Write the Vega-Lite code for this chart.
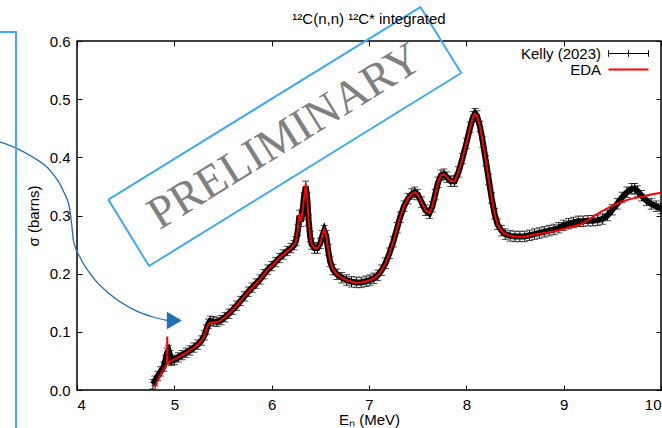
{
  "$schema": "https://vega.github.io/schema/vega-lite/v6.json",
  "width": 584,
  "height": 349,
  "autosize": "none",
  "padding": {"left": 77, "top": 41, "right": 1, "bottom": 38},
  "background": "white",
  "config": {
    "font": "Liberation Sans",
    "view": {"stroke": "black", "strokeWidth": 1.5},
    "axis": {"grid": false, "domain": false, "tickColor": "black", "tickSize": -5, "tickWidth": 1, "labelColor": "black", "titleColor": "black", "labelFontSize": 15, "titleFontSize": 15, "titleFontWeight": "normal", "labelFont": "Liberation Sans", "titleFont": "Liberation Sans"}
  },
  "title": {"text": "¹²C(n,n) ¹²C* integrated", "fontSize": 15, "fontWeight": "normal", "font": "Liberation Sans", "color": "black", "anchor": "middle", "offset": 10, "dy": 34},
  "datasets": {
    "kelly": [
      {"E":4.78,"s":0.010,"e":0.008},{"E":4.80,"s":0.016,"e":0.008},{"E":4.83,"s":0.024,"e":0.008},{"E":4.86,"s":0.032,"e":0.008},{"E":4.89,"s":0.040,"e":0.008},{"E":4.91,"s":0.052,"e":0.008},{"E":4.925,"s":0.064,"e":0.008},{"E":4.94,"s":0.068,"e":0.008},{"E":4.955,"s":0.060,"e":0.008},{"E":4.97,"s":0.050,"e":0.008},
      {"E":5.00,"s":0.052,"e":0.008},{"E":5.04,"s":0.056,"e":0.008},{"E":5.08,"s":0.060,"e":0.008},{"E":5.12,"s":0.064,"e":0.008},{"E":5.16,"s":0.068,"e":0.008},{"E":5.20,"s":0.073,"e":0.008},{"E":5.24,"s":0.078,"e":0.008},{"E":5.28,"s":0.085,"e":0.008},{"E":5.31,"s":0.094,"e":0.008},{"E":5.33,"s":0.104,"e":0.008},
      {"E":5.35,"s":0.114,"e":0.008},{"E":5.37,"s":0.119,"e":0.008},{"E":5.40,"s":0.118,"e":0.008},{"E":5.44,"s":0.117,"e":0.008},{"E":5.48,"s":0.120,"e":0.008},{"E":5.52,"s":0.125,"e":0.008},{"E":5.56,"s":0.131,"e":0.008},{"E":5.60,"s":0.138,"e":0.008},{"E":5.64,"s":0.145,"e":0.008},{"E":5.68,"s":0.153,"e":0.008},
      {"E":5.72,"s":0.161,"e":0.008},{"E":5.76,"s":0.169,"e":0.008},{"E":5.80,"s":0.176,"e":0.008},{"E":5.84,"s":0.183,"e":0.008},{"E":5.88,"s":0.190,"e":0.008},{"E":5.92,"s":0.199,"e":0.008},{"E":5.96,"s":0.207,"e":0.008},{"E":6.00,"s":0.213,"e":0.008},{"E":6.04,"s":0.220,"e":0.008},{"E":6.08,"s":0.227,"e":0.008},
      {"E":6.12,"s":0.233,"e":0.008},{"E":6.16,"s":0.239,"e":0.008},{"E":6.20,"s":0.244,"e":0.008},{"E":6.23,"s":0.249,"e":0.008},{"E":6.25,"s":0.256,"e":0.008},{"E":6.27,"s":0.275,"e":0.009},{"E":6.285,"s":0.300,"e":0.009},{"E":6.30,"s":0.290,"e":0.009},{"E":6.315,"s":0.302,"e":0.009},{"E":6.33,"s":0.330,"e":0.009},
      {"E":6.35,"s":0.350,"e":0.009},{"E":6.365,"s":0.330,"e":0.009},{"E":6.38,"s":0.292,"e":0.009},{"E":6.395,"s":0.264,"e":0.009},{"E":6.41,"s":0.251,"e":0.009},{"E":6.44,"s":0.244,"e":0.009},{"E":6.47,"s":0.244,"e":0.009},{"E":6.50,"s":0.252,"e":0.009},{"E":6.52,"s":0.265,"e":0.009},{"E":6.54,"s":0.274,"e":0.009},
      {"E":6.56,"s":0.265,"e":0.009},{"E":6.58,"s":0.241,"e":0.009},{"E":6.60,"s":0.221,"e":0.009},{"E":6.63,"s":0.207,"e":0.009},{"E":6.67,"s":0.199,"e":0.009},{"E":6.72,"s":0.193,"e":0.009},{"E":6.77,"s":0.189,"e":0.009},{"E":6.82,"s":0.186,"e":0.009},{"E":6.87,"s":0.185,"e":0.009},{"E":6.92,"s":0.185,"e":0.009},
      {"E":6.97,"s":0.187,"e":0.009},{"E":7.01,"s":0.189,"e":0.009},{"E":7.05,"s":0.192,"e":0.009},{"E":7.09,"s":0.197,"e":0.009},{"E":7.13,"s":0.206,"e":0.009},{"E":7.17,"s":0.218,"e":0.009},{"E":7.21,"s":0.235,"e":0.009},{"E":7.25,"s":0.255,"e":0.009},{"E":7.29,"s":0.279,"e":0.009},{"E":7.32,"s":0.297,"e":0.009},
      {"E":7.36,"s":0.316,"e":0.009},{"E":7.40,"s":0.329,"e":0.009},{"E":7.44,"s":0.337,"e":0.009},{"E":7.47,"s":0.340,"e":0.009},{"E":7.50,"s":0.336,"e":0.009},{"E":7.54,"s":0.323,"e":0.009},{"E":7.58,"s":0.309,"e":0.009},{"E":7.62,"s":0.304,"e":0.009},{"E":7.65,"s":0.315,"e":0.009},{"E":7.68,"s":0.336,"e":0.009},
      {"E":7.71,"s":0.357,"e":0.009},{"E":7.74,"s":0.369,"e":0.009},{"E":7.77,"s":0.371,"e":0.009},{"E":7.80,"s":0.366,"e":0.009},{"E":7.84,"s":0.359,"e":0.009},{"E":7.88,"s":0.359,"e":0.009},{"E":7.92,"s":0.375,"e":0.009},{"E":7.96,"s":0.398,"e":0.009},{"E":8.00,"s":0.424,"e":0.009},{"E":8.04,"s":0.452,"e":0.009},
      {"E":8.07,"s":0.470,"e":0.009},{"E":8.09,"s":0.475,"e":0.009},{"E":8.11,"s":0.471,"e":0.009},{"E":8.14,"s":0.453,"e":0.009},{"E":8.17,"s":0.426,"e":0.009},{"E":8.20,"s":0.394,"e":0.009},{"E":8.23,"s":0.362,"e":0.009},{"E":8.26,"s":0.330,"e":0.009},{"E":8.29,"s":0.303,"e":0.009},{"E":8.32,"s":0.285,"e":0.009},
      {"E":8.36,"s":0.274,"e":0.009},{"E":8.40,"s":0.268,"e":0.009},{"E":8.45,"s":0.265,"e":0.009},{"E":8.50,"s":0.264,"e":0.009},{"E":8.55,"s":0.264,"e":0.009},{"E":8.60,"s":0.264,"e":0.009},{"E":8.65,"s":0.266,"e":0.009},{"E":8.70,"s":0.268,"e":0.009},{"E":8.75,"s":0.270,"e":0.009},{"E":8.80,"s":0.272,"e":0.009},
      {"E":8.85,"s":0.274,"e":0.009},{"E":8.90,"s":0.276,"e":0.009},{"E":8.95,"s":0.279,"e":0.009},{"E":9.00,"s":0.283,"e":0.009},{"E":9.05,"s":0.286,"e":0.009},{"E":9.10,"s":0.288,"e":0.009},{"E":9.15,"s":0.290,"e":0.009},{"E":9.20,"s":0.290,"e":0.009},{"E":9.25,"s":0.291,"e":0.009},{"E":9.30,"s":0.291,"e":0.009},
      {"E":9.35,"s":0.292,"e":0.009},{"E":9.40,"s":0.294,"e":0.009},{"E":9.45,"s":0.300,"e":0.009},{"E":9.50,"s":0.310,"e":0.009},{"E":9.55,"s":0.320,"e":0.009},{"E":9.60,"s":0.331,"e":0.009},{"E":9.65,"s":0.340,"e":0.009},{"E":9.70,"s":0.346,"e":0.009},{"E":9.73,"s":0.346,"e":0.009},{"E":9.76,"s":0.342,"e":0.009},
      {"E":9.80,"s":0.334,"e":0.009},{"E":9.85,"s":0.326,"e":0.009},{"E":9.90,"s":0.320,"e":0.009},{"E":9.95,"s":0.316,"e":0.009},{"E":10.0,"s":0.312,"e":0.009}
    ],
    "eda": [
      {"E":4.80,"s":0.004},{"E":4.83,"s":0.017},{"E":4.86,"s":0.027},{"E":4.89,"s":0.036},{"E":4.925,"s":0.045},{"E":4.927,"s":0.092},{"E":4.929,"s":0.046},{"E":4.96,"s":0.049},
      {"E":5.00,"s":0.053},{"E":5.04,"s":0.056},{"E":5.08,"s":0.060},{"E":5.12,"s":0.064},{"E":5.16,"s":0.068},{"E":5.20,"s":0.073},{"E":5.24,"s":0.078},{"E":5.28,"s":0.085},{"E":5.31,"s":0.094},{"E":5.33,"s":0.105},
      {"E":5.35,"s":0.113},{"E":5.37,"s":0.116},{"E":5.40,"s":0.116},{"E":5.44,"s":0.117},{"E":5.48,"s":0.120},{"E":5.52,"s":0.125},{"E":5.56,"s":0.131},{"E":5.60,"s":0.138},{"E":5.64,"s":0.145},{"E":5.68,"s":0.153},
      {"E":5.72,"s":0.161},{"E":5.76,"s":0.169},{"E":5.80,"s":0.176},{"E":5.84,"s":0.183},{"E":5.88,"s":0.190},{"E":5.92,"s":0.199},{"E":5.96,"s":0.207},{"E":6.00,"s":0.213},{"E":6.04,"s":0.220},{"E":6.08,"s":0.227},
      {"E":6.12,"s":0.233},{"E":6.16,"s":0.239},{"E":6.20,"s":0.244},{"E":6.23,"s":0.249},{"E":6.25,"s":0.256},{"E":6.27,"s":0.278},{"E":6.285,"s":0.303},{"E":6.30,"s":0.290},{"E":6.32,"s":0.310},{"E":6.35,"s":0.355},
      {"E":6.365,"s":0.330},{"E":6.38,"s":0.292},{"E":6.395,"s":0.265},{"E":6.41,"s":0.251},{"E":6.44,"s":0.244},{"E":6.47,"s":0.244},{"E":6.50,"s":0.252},{"E":6.52,"s":0.266},{"E":6.54,"s":0.276},{"E":6.56,"s":0.266},
      {"E":6.58,"s":0.242},{"E":6.60,"s":0.222},{"E":6.63,"s":0.207},{"E":6.67,"s":0.199},{"E":6.72,"s":0.193},{"E":6.77,"s":0.189},{"E":6.82,"s":0.186},{"E":6.87,"s":0.185},{"E":6.92,"s":0.185},{"E":6.97,"s":0.187},
      {"E":7.01,"s":0.189},{"E":7.05,"s":0.192},{"E":7.09,"s":0.197},{"E":7.13,"s":0.206},{"E":7.17,"s":0.218},{"E":7.21,"s":0.235},{"E":7.25,"s":0.255},{"E":7.29,"s":0.279},{"E":7.32,"s":0.297},{"E":7.36,"s":0.316},
      {"E":7.40,"s":0.329},{"E":7.44,"s":0.337},{"E":7.47,"s":0.340},{"E":7.50,"s":0.336},{"E":7.54,"s":0.323},{"E":7.58,"s":0.309},{"E":7.62,"s":0.304},{"E":7.65,"s":0.315},{"E":7.68,"s":0.336},{"E":7.71,"s":0.357},
      {"E":7.74,"s":0.369},{"E":7.77,"s":0.371},{"E":7.80,"s":0.366},{"E":7.84,"s":0.359},{"E":7.88,"s":0.359},{"E":7.92,"s":0.375},{"E":7.96,"s":0.398},{"E":8.00,"s":0.424},{"E":8.04,"s":0.452},{"E":8.07,"s":0.470},
      {"E":8.09,"s":0.475},{"E":8.11,"s":0.471},{"E":8.14,"s":0.453},{"E":8.17,"s":0.426},{"E":8.20,"s":0.394},{"E":8.23,"s":0.362},{"E":8.26,"s":0.330},{"E":8.29,"s":0.303},{"E":8.32,"s":0.285},{"E":8.36,"s":0.274},
      {"E":8.40,"s":0.268},{"E":8.45,"s":0.265},{"E":8.50,"s":0.264},{"E":8.55,"s":0.263},{"E":8.60,"s":0.264},{"E":8.70,"s":0.267},{"E":8.80,"s":0.270},{"E":8.90,"s":0.273},{"E":9.00,"s":0.277},{"E":9.10,"s":0.281},
      {"E":9.17,"s":0.284},{"E":9.25,"s":0.292},{"E":9.33,"s":0.301},{"E":9.41,"s":0.309},{"E":9.50,"s":0.317},{"E":9.60,"s":0.324},{"E":9.70,"s":0.329},{"E":9.80,"s":0.332},{"E":9.90,"s":0.336},{"E":10.0,"s":0.339}
    ],
    "rect": [
      {"i":0,"E":4.322,"s":0.3273},{"i":1,"E":7.528,"s":0.6584},{"i":2,"E":7.947,"s":0.5450},{"i":3,"E":4.740,"s":0.2132},{"i":4,"E":4.322,"s":0.3273}
    ],
    "stamp": [
      {"E":6.134,"s":0.4358,"t":"PRELIMINARY"}
    ],
    "arc": [
      {"E":3.15,"s":0.428},{"E":3.209,"s":0.4263},{"E":3.380,"s":0.4155},{"E":3.548,"s":0.4001},{"E":3.723,"s":0.3777},{"E":3.856,"s":0.3433},{"E":3.928,"s":0.3089},{"E":3.945,"s":0.285},{"E":3.965,"s":0.256},{"E":4.031,"s":0.2281},{"E":4.164,"s":0.1938},{"E":4.339,"s":0.1645},{"E":4.576,"s":0.1387},{"E":4.781,"s":0.1255},{"E":4.925,"s":0.1198}
    ],
    "head": [
      {"E":5.0,"s":0.1195}
    ],
    "box": [
      {"i":0,"E":3.0,"s":0.6154},{"i":1,"E":3.373,"s":0.6154},{"i":2,"E":3.373,"s":-0.12}
    ]
  },
  "layer": [
    {
      "data": {"name": "kelly"},
      "mark": {"type": "line", "strokeWidth": 6, "color": "black"},
      "encoding": {
        "x": {"field": "E", "type": "quantitative", "scale": {"domain": [4, 10], "nice": false, "zero": false},
              "axis": {"values": [4, 5, 6, 7, 8, 9, 10], "title": "Eₙ (MeV)", "labelPadding": 12, "titlePadding": 0}},
        "y": {"field": "s", "type": "quantitative", "scale": {"domain": [0, 0.6], "nice": false, "zero": false},
              "axis": {"values": [0, 0.1, 0.2, 0.3, 0.4, 0.5, 0.6], "title": "σ (barns)", "labelPadding": 12, "titlePadding": 8}},
        "color": {"datum": "Kelly (2023)", "type": "nominal",
                  "scale": {"domain": ["Kelly (2023)", "EDA"], "range": ["black", "red"]},
                  "legend": {"orient": "none", "legendX": 544, "legendY": 5, "title": null, "labelFontSize": 15, "labelFont": "Liberation Sans", "labelColor": "black",
                             "labelAlign": "right", "labelOffset": -35, "symbolSize": 64, "rowPadding": 0, "padding": 0,
                             "encode": {"symbols": {"update": {
                               "shape": {"signal": "datum.value === 'EDA' ? 'M-5,0H5' : 'M-5,0H5M-5,-0.8V0.8M5,-0.8V0.8M0,-0.8V0.8'"},
                               "strokeWidth": {"signal": "datum.value === 'EDA' ? 2 : 1"},
                               "fill": {"value": "transparent"}}}}}}
      }
    },
    {
      "data": {"name": "kelly"},
      "mark": {"type": "errorbar", "color": "black", "thickness": 1, "ticks": {"size": 7, "thickness": 1}},
      "encoding": {
        "x": {"field": "E", "type": "quantitative", "axis": null},
        "y": {"field": "s", "type": "quantitative", "axis": null},
        "yError": {"field": "e"}
      }
    },
    {
      "data": {"name": "eda"},
      "mark": {"type": "line", "strokeWidth": 2},
      "encoding": {
        "x": {"field": "E", "type": "quantitative", "axis": {"orient": "top", "labels": false, "title": null, "values": [4, 5, 6, 7, 8, 9, 10]}},
        "y": {"field": "s", "type": "quantitative", "axis": {"orient": "right", "labels": false, "title": null, "values": [0, 0.1, 0.2, 0.3, 0.4, 0.5, 0.6]}},
        "color": {"datum": "EDA", "type": "nominal"}
      }
    },
    {
      "data": {"name": "rect"},
      "mark": {"type": "line", "color": "#3fa9f5", "strokeWidth": 2, "clip": false},
      "encoding": {
        "x": {"field": "E", "type": "quantitative", "axis": null},
        "y": {"field": "s", "type": "quantitative", "axis": null},
        "order": {"field": "i"}
      }
    },
    {
      "data": {"name": "stamp"},
      "mark": {"type": "text", "font": "Liberation Serif", "fontSize": 46, "color": "#808080", "angle": 328.3, "align": "center", "baseline": "middle", "clip": false},
      "encoding": {
        "x": {"field": "E", "type": "quantitative", "axis": null},
        "y": {"field": "s", "type": "quantitative", "axis": null},
        "text": {"field": "t"}
      }
    },
    {
      "data": {"name": "arc"},
      "mark": {"type": "line", "color": "#1f6fb2", "strokeWidth": 1.3, "interpolate": "monotone", "clip": false},
      "encoding": {
        "x": {"field": "E", "type": "quantitative", "axis": null},
        "y": {"field": "s", "type": "quantitative", "axis": null}
      }
    },
    {
      "data": {"name": "head"},
      "mark": {"type": "point", "shape": "triangle-right", "filled": true, "size": 300, "color": "#1f6fb2", "opacity": 1, "clip": false},
      "encoding": {
        "x": {"field": "E", "type": "quantitative", "axis": null},
        "y": {"field": "s", "type": "quantitative", "axis": null}
      }
    },
    {
      "data": {"name": "box"},
      "mark": {"type": "line", "color": "#3fa9f5", "strokeWidth": 2, "clip": false},
      "encoding": {
        "x": {"field": "E", "type": "quantitative", "axis": null},
        "y": {"field": "s", "type": "quantitative", "axis": null},
        "order": {"field": "i"}
      }
    }
  ],
  "resolve": {"axis": {"x": "independent", "y": "independent"}}
}
